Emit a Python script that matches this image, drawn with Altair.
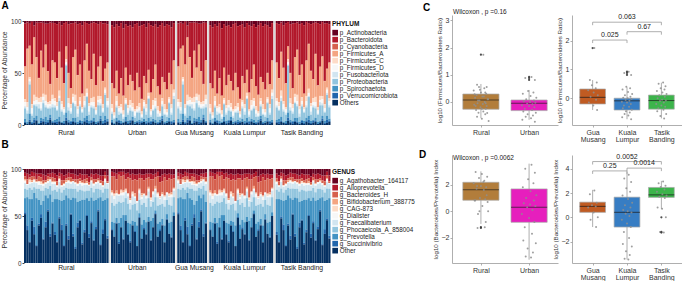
import altair as alt
import pandas as pd

FONT = "Liberation Sans"

# ---------------- categories ----------------
PHYLA = ["p_Actinobacteria", "p_Bacteroidota", "p_Cyanobacteria", "p_Firmicutes_A",
         "p_Firmicutes_C", "p_Firmicutes_D", "p_Fusobacteriota", "p_Proteobacteria",
         "p_Spirochaetota", "p_Verrucomicrobiota", "Others"]
GENERA = ["g_Agathobacter_164117", "g_Alloprevotella", "g_Bacteroides_H",
          "g_Bifidobacterium_388775", "g_CAG-873", "g_Dialister", "g_Faecalibaterium",
          "g_Phocaeicola_A_858004", "g_Prevotella", "g_Succinivibrio", "Other"]
RDBU = ["#67001f", "#b2182b", "#d6604d", "#f4a582", "#fddbc7", "#f7f7f7",
        "#d1e5f0", "#92c5de", "#4393c3", "#2166ac", "#053061"]

# ---------------- phylum relative abundance (%), one list per phylum ----------------
PHY_GM = [
    [2.5, 1.5, 2.7, 0.8, 4.4, 1.6, 1.7, 1.5, 1.8, 2.6, 2.7, 1.5, 1.8],
    [41, 25, 21, 41, 11, 33, 53, 27, 43, 20, 46, 59, 36],
    [0.5, 0.5, 0.3, 0.2, 0.6, 0.4, 0.3, 0.5, 0.2, 0.4, 0.3, 0.5, 0.2],
    [31, 51, 30, 38, 55, 38, 19, 44, 25, 48, 30, 16, 33],
    [3, 5, 2, 4, 6, 3, 4, 5, 3, 6, 2, 3, 4],
    [4, 3, 2, 5, 3, 4, 2, 6, 3, 4, 3, 2, 5],
    [2, 3, 3, 2, 1, 2, 4, 2, 3, 2, 1, 2, 3],
    [10, 8, 28, 6, 12, 9, 14, 7, 15, 9, 11, 6, 13],
    [3, 2, 6, 1, 2, 4, 1, 3, 2, 5, 2, 3, 1],
    [1, 0, 2, 1, 3, 1, 0, 2, 1, 2, 1, 2, 1],
    [2, 1, 3, 1, 2, 4, 1, 2, 3, 1, 2, 5, 2],
]
PHY_TB = [
    [2, 3, 1.5, 4, 2, 1, 3, 2.5, 2, 1.5, 3, 2, 4, 1, 2, 3, 2, 1.5, 2, 3, 1, 2.5, 2, 3],
    [38, 52, 28, 41, 58, 23, 47, 62, 33, 26, 49, 40, 66, 37, 20, 45, 54, 30, 60, 41, 33, 55, 44, 37],
    [0.4, 0.3, 0.5, 0.2, 0.3, 0.6, 0.2, 0.4, 0.3, 0.5, 0.2, 0.3, 0.4, 0.2, 0.5, 0.3, 0.2, 0.4, 0.3, 0.2, 0.5, 0.3, 0.4, 0.2],
    [34, 23, 37, 32, 23, 12, 24, 15, 35, 43, 30, 31, 13, 34, 43, 31, 18, 41, 21, 28, 38, 22, 18, 34],
    [3, 4, 5, 3, 2, 3, 5, 4, 3, 6, 3, 4, 2, 5, 4, 3, 4, 5, 3, 4, 3, 4, 2, 3],
    [4, 3, 2, 5, 3, 2, 4, 3, 5, 3, 4, 3, 2, 4, 3, 5, 3, 4, 3, 2, 4, 3, 3, 4],
    [2, 1, 3, 2, 2, 1, 3, 2, 1, 2, 3, 2, 1, 2, 1, 3, 2, 2, 1, 3, 2, 1, 2, 2],
    [12, 8, 15, 10, 6, 45, 9, 7, 14, 11, 5, 13, 8, 10, 18, 6, 12, 9, 7, 15, 10, 8, 20, 11],
    [2, 3, 4, 1, 2, 5, 2, 1, 3, 4, 2, 1, 2, 3, 4, 2, 1, 3, 2, 1, 3, 2, 4, 2],
    [1, 2, 1, 0, 1, 3, 1, 2, 1, 1, 0, 2, 1, 1, 3, 1, 2, 1, 0, 1, 2, 1, 3, 1],
    [2, 1, 3, 2, 1, 4, 2, 1, 3, 2, 1, 2, 1, 3, 2, 1, 2, 3, 1, 2, 4, 1, 2, 3],
]
PHY_KL = [
    [4, 6, 3, 5, 2, 7, 3, 5, 4, 6, 3, 2, 5, 4, 3, 6, 2, 4, 5, 3, 6, 4, 2, 5, 3, 4, 6, 2],
    [56, 59, 45, 65, 53, 65, 42, 57, 48, 52, 64, 48, 59, 71, 50, 54, 45, 65, 51, 39, 57, 67, 52, 54, 63, 46, 55, 36],
    [0.3, 0.2, 0.4, 0.3, 0.2, 0.5, 0.3, 0.2, 0.4, 0.3, 0.2, 0.3, 0.4, 0.2, 0.3, 0.5, 0.2, 0.3, 0.4, 0.2, 0.3, 0.2, 0.4, 0.3, 0.2, 0.3, 0.4, 0.2],
    [20, 23, 24, 12, 25, 14, 29, 19, 24, 21, 18, 32, 15, 12, 23, 20, 22, 16, 20, 32, 19, 16, 20, 21, 19, 23, 19, 28],
    [4, 3, 5, 2, 3, 4, 2, 3, 5, 4, 2, 3, 4, 3, 2, 4, 3, 2, 5, 3, 4, 2, 3, 5, 3, 2, 4, 3],
    [3, 2, 4, 3, 5, 2, 3, 4, 2, 3, 4, 2, 3, 2, 4, 3, 2, 3, 4, 5, 3, 2, 3, 4, 2, 3, 4, 3],
    [2, 1, 2, 3, 1, 2, 1, 2, 3, 1, 2, 1, 2, 1, 2, 3, 1, 2, 1, 2, 3, 1, 2, 1, 2, 1, 2, 3],
    [6, 4, 10, 5, 7, 3, 12, 6, 9, 5, 4, 8, 7, 3, 10, 6, 18, 4, 8, 11, 5, 3, 9, 7, 4, 14, 6, 20],
    [2, 1, 3, 1, 2, 1, 4, 2, 1, 3, 2, 1, 2, 1, 3, 2, 4, 1, 2, 3, 1, 2, 3, 1, 2, 3, 1, 2],
    [1, 0, 1, 2, 1, 0, 1, 1, 2, 1, 0, 1, 2, 1, 0, 1, 1, 2, 1, 0, 1, 1, 2, 1, 0, 1, 2, 1],
    [2, 1, 3, 2, 1, 2, 3, 1, 2, 4, 1, 2, 1, 2, 3, 1, 2, 1, 3, 2, 1, 2, 4, 1, 2, 3, 1, 2],
]

# ---------------- genus relative abundance (%), one list per genus ----------------
GEN_GM = [
    [4, 5, 6, 3, 4, 5, 5, 5, 6, 7, 5, 5, 4],
    [4, 6, 3, 5, 4, 6, 3, 4, 6, 5, 3, 4, 5],
    [3, 5, 2, 4, 3, 2, 5, 4, 3, 2, 3, 2, 4],
    [1, 0, 1, 2, 0, 1, 0, 1, 1, 0, 2, 0, 1],
    [1, 0, 2, 0, 1, 0, 1, 2, 0, 1, 0, 1, 0],
    [2, 1, 2, 1, 2, 1, 3, 1, 2, 1, 2, 1, 2],
    [6, 5, 4, 7, 5, 6, 4, 6, 5, 4, 6, 5, 7],
    [10, 8, 12, 10, 6, 10, 12, 15, 11, 8, 10, 9, 12],
    [15, 30, 45, 20, 35, 50, 25, 10, 40, 28, 12, 42, 22],
    [2, 5, 1, 3, 8, 1, 2, 4, 1, 6, 2, 3, 1],
    [52, 35, 22, 45, 30, 18, 40, 48, 25, 38, 55, 28, 42],
]
GEN_TB = [
    [5, 7, 4, 5, 7, 6, 4, 5, 5, 6, 7, 5, 6, 6, 6, 8, 5, 6, 5, 6, 7, 7, 3, 7],
    [5, 6, 4, 7, 5, 4, 5, 4, 6, 5, 4, 5, 6, 5, 4, 6, 4, 5, 6, 4, 5, 6, 4, 6],
    [3, 4, 2, 5, 3, 2, 3, 4, 2, 3, 4, 3, 2, 4, 3, 2, 3, 4, 3, 2, 3, 4, 3, 2],
    [1, 0, 1, 0, 1, 2, 0, 1, 0, 0, 1, 0, 1, 0, 2, 1, 0, 1, 0, 1, 0, 0, 1, 0],
    [0, 1, 0, 1, 0, 0, 1, 0, 0, 1, 0, 2, 0, 1, 0, 0, 1, 0, 0, 1, 0, 1, 0, 0],
    [2, 1, 3, 1, 2, 1, 2, 2, 1, 1, 2, 1, 3, 1, 2, 1, 1, 2, 2, 1, 2, 1, 3, 1],
    [6, 5, 7, 6, 4, 5, 6, 5, 7, 5, 6, 6, 5, 7, 6, 5, 6, 7, 5, 6, 5, 6, 7, 5],
    [10, 8, 12, 9, 11, 8, 10, 12, 9, 10, 11, 12, 10, 9, 8, 11, 10, 9, 12, 10, 8, 9, 12, 10],
    [35, 45, 18, 25, 48, 30, 40, 15, 38, 52, 22, 20, 46, 32, 18, 35, 25, 42, 28, 12, 50, 30, 20, 40],
    [3, 1, 2, 6, 1, 2, 4, 1, 3, 2, 5, 1, 2, 3, 1, 4, 2, 1, 3, 2, 1, 5, 2, 3],
    [30, 22, 48, 35, 18, 40, 25, 52, 28, 15, 38, 45, 20, 33, 50, 27, 42, 24, 36, 55, 19, 31, 46, 26],
]
GEN_KL = [
    [3, 4, 5, 3, 3, 3, 5, 4, 6, 5, 6, 6, 5, 6, 6, 5, 5, 5, 6, 5, 3, 8, 6, 5, 6, 5, 6, 6],
    [5, 4, 6, 3, 5, 4, 6, 5, 4, 7, 5, 6, 5, 4, 6, 5, 4, 6, 5, 4, 5, 6, 7, 4, 6, 5, 5, 4],
    [15, 18, 12, 20, 14, 16, 10, 17, 21, 12, 15, 22, 11, 16, 14, 18, 10, 19, 13, 9, 17, 15, 12, 19, 13, 16, 14, 10],
    [2, 1, 3, 0, 1, 2, 1, 0, 2, 1, 3, 0, 1, 2, 1, 0, 2, 1, 0, 3, 1, 0, 2, 1, 0, 1, 2, 1],
    [1, 2, 0, 1, 3, 0, 2, 1, 0, 2, 1, 0, 1, 2, 0, 1, 0, 2, 1, 0, 1, 2, 0, 1, 0, 2, 1, 0],
    [2, 3, 2, 1, 2, 3, 1, 2, 3, 2, 1, 2, 3, 2, 1, 2, 3, 1, 2, 2, 3, 1, 2, 3, 2, 1, 2, 2],
    [8, 7, 9, 6, 8, 7, 6, 8, 7, 9, 6, 8, 7, 6, 8, 9, 7, 6, 8, 7, 9, 6, 8, 7, 6, 8, 9, 7],
    [20, 18, 15, 22, 16, 14, 18, 20, 15, 17, 19, 16, 14, 21, 18, 16, 20, 15, 17, 14, 19, 18, 16, 20, 15, 19, 17, 16],
    [8, 15, 5, 20, 10, 25, 6, 12, 18, 5, 10, 22, 4, 15, 8, 12, 5, 20, 10, 3, 14, 8, 6, 18, 5, 12, 16, 4],
    [1, 0, 1, 2, 0, 1, 0, 1, 2, 0, 1, 0, 1, 0, 2, 1, 0, 1, 0, 1, 0, 2, 1, 0, 1, 0, 1, 0],
    [35, 28, 42, 20, 38, 25, 45, 30, 22, 40, 33, 18, 48, 26, 36, 30, 44, 24, 38, 52, 28, 34, 40, 22, 46, 31, 27, 50],
]

SECTIONS = ["Rural", "Urban", "Gua Musang", "Kuala Lumpur", "Tasik Banding"]
SECTION_MEMBERS = [["GM", "TB"], ["KL"], ["GM"], ["KL"], ["TB"]]
LABEL_AT = [18, 11, 7, 15, 11]

# ---------------- box plot summaries ----------------
C_NAMES1 = ["Rural", "Urban"]
C_NAMES2 = ["Gua Musang", "Kuala Lumpur", "Tasik Banding"]
COL1 = ["#b27d3b", "#e61fbd"]
COL2 = ["#c05b22", "#377dc3", "#3cb44b"]

C1_Q1 = [-0.27, -0.32]; C1_MED = [0.07, -0.05]; C1_Q3 = [0.29, 0.07]; C1_LO = [-0.6, -0.66]; C1_HI = [0.66, 0.44]
C2_Q1 = [-0.2, -0.41, -0.38]; C2_MED = [0.03, -0.09, -0.08]; C2_Q3 = [0.32, 0.0, 0.11]
C2_LO = [-0.41, -0.73, -0.7]; C2_HI = [0.63, 0.38, 0.54]
D1_Q1 = [0.83, -0.83]; D1_MED = [1.62, 0.3]; D1_Q3 = [2.18, 1.68]; D1_LO = [-0.95, -3.64]; D1_HI = [3.0, 3.58]
D2_Q1 = [0.41, -0.8, 1.64]; D2_MED = [0.9, 0.41, 1.85]; D2_Q3 = [1.25, 1.66, 2.46]
D2_LO = [-0.8, -3.47, 0.7]; D2_HI = [2.26, 3.75, 3.0]

# sample points
GM_C = [1.74, 0.63, 0.55, 0.45, 0.35, 0.28, 0.2, 0.1, 0.05, -0.05, -0.15, -0.25, -0.41]
TB_C = [0.55, 0.5, 0.42, 0.35, 0.3, 0.25, 0.2, 0.15, 0.1, 0.05, 0.0, -0.05, -0.08, -0.1, -0.15,
        -0.2, -0.25, -0.3, -0.35, -0.4, -0.45, -0.55, -0.62, -0.7]
KL_C = [0.92, 0.88, 0.81, 0.4, 0.35, 0.3, 0.22, 0.15, 0.1, 0.05, 0.02, 0.0, -0.03, -0.06, -0.09,
        -0.12, -0.15, -0.2, -0.25, -0.3, -0.35, -0.4, -0.45, -0.5, -0.55, -0.6, -0.66, -0.73]
GM_D = [2.2, 1.9, 1.2, 1.0, 0.9, 0.8, 0.4, 0.0, -0.2, -0.8]
TB_D = [2.95, 2.8, 2.6, 2.5, 2.3, 2.1, 1.9, 1.8, 1.7, 1.6, 0.8, 0.7, 0.0, -1.2, -1.25]
KL_D = [3.5, 3.2, 2.9, 2.4, 2.1, 1.8, 1.5, 1.2, 1.0, 0.8, 0.6, 0.5, 0.4, 0.3, 0.1, -0.2, -0.5,
        -0.8, -1.2, -1.7, -2.2, -2.4, -2.8, -3.1, -3.4, -3.47]
JITTER = [0.05, -0.08, 0.12, -0.02, 0.09, -0.13, 0.03, 0.15, -0.06, 0.1, -0.11, 0.02, 0.13, -0.04,
          0.07, -0.15, 0.0, 0.11, -0.09, 0.06, -0.12, 0.14, -0.03, 0.08, -0.07, 0.04, -0.14, 0.12,
          -0.01, 0.1, -0.1, 0.05, -0.05, 0.09, -0.08, 0.02, 0.16, -0.16, 0.01, -0.12]
C1_OUT = [[1.74], [0.92, 0.88, 0.81]]
C2_OUT = [[1.74], [0.92, 0.88, 0.81], []]
D1_OUT = [[-1.2, -1.25], []]
D2_OUT = [[], [], [0.0, -1.2, -1.25]]

C2_BRACKETS = [(1, 3, 2.64, "0.063"), (1, 2, 2.02, "0.025"), (2, 3, 2.31, "0.67")]
D2_BRACKETS = [(1, 3, 4.59, "0.0052"), (1, 2, 3.82, "0.25"), (2, 3, 4.05, "0.0014")]

BOX_W = 0.75
TXT = "#222222"
GRAY = "#9a9a9a"
N_PAD_BANDS = 47   # empty bands to the right of the bars: room for the legend


def stacked_tables(tables, cats, catname):
    rows, domain, gaps, labels = [], [], [], []
    for si, (sec, members) in enumerate(zip(SECTIONS, SECTION_MEMBERS)):
        if si > 0:
            g = f"gap{si}"
            domain.append(g)
            gaps.append(g)
        j = 0
        for m in members:
            tab = tables[m]
            for s in range(len(tab[0])):
                key = f"{si}-{j}"
                domain.append(key)
                for k, c in enumerate(cats):
                    rows.append({"key": key, catname: c, "val": tab[k][s], "ord": len(cats) - 1 - k})
                j += 1
        labels.append({"key": f"{si}-{LABEL_AT[si]}", "label": sec})
    domain += [f"pad{i}" for i in range(N_PAD_BANDS)]
    return pd.DataFrame(rows), domain, pd.DataFrame({"key": gaps}), pd.DataFrame(labels)


def stacked_chart(tables, cats, catname, legend_title, height, ytop, legend_y, letter,
                  letter_offset, label_dy):
    df, domain, gaps, labels = stacked_tables(tables, cats, catname)
    xs = alt.Scale(domain=domain, paddingInner=0, paddingOuter=0, round=False)
    ys = alt.Scale(domain=[0, ytop], nice=False)
    yaxis = alt.Axis(values=[0, 0.25, 0.5, 0.75, 1], labelExpr="format(datum.value*100,'d')",
                     title="Percentage of Abundance", domain=False, grid=False, tickSize=2,
                     tickColor="#444", labelFontSize=6.3, labelColor="#333", labelPadding=1,
                     titleFontSize=6.8, titleFontWeight="normal", titleColor="#333", titlePadding=3)
    bars = alt.Chart(df).mark_bar().encode(
        x=alt.X("key:N", scale=xs, axis=None),
        y=alt.Y("val:Q", stack="normalize", scale=ys, axis=yaxis),
        color=alt.Color(f"{catname}:N", scale=alt.Scale(domain=cats, range=RDBU),
                        legend=alt.Legend(title=legend_title, orient="none", legendX=308,
                                          legendY=legend_y, padding=0,
                                          titleFontSize=6.5, titleFontWeight="bold", titleColor="#111",
                                          titlePadding=2, labelFontSize=6.3, labelColor=TXT,
                                          labelOffset=1.5, symbolType="square", symbolSize=32,
                                          symbolStrokeWidth=0, rowPadding=-1.7, labelLimit=120)),
        order=alt.Order("ord:Q", sort="ascending"),
    )
    rules = alt.Chart(gaps).mark_rule(color="#d6d6d6", strokeWidth=1.6).encode(
        x=alt.X("key:N", scale=xs, axis=None), y=alt.datum(0), y2=alt.datum(1))
    text = alt.Chart(labels).mark_text(fontSize=6.8, baseline="top", color=TXT).encode(
        x=alt.X("key:N", scale=xs, axis=None), y=alt.value(height + label_dy), text="label:N")
    return alt.layer(bars, rules, text).properties(
        width=414, height=height,
        title=alt.TitleParams(letter, anchor="start", frame="bounds", fontSize=10,
                              fontWeight="bold", offset=letter_offset, color="#000"))


def box_panel(names, colors, q1, med, q3, lo, hi, pts, outs, ydom, yticks, w, h, ytitle,
              twoline=False, letter=None, letter_offset=0, wil=None, wil_y=0, brackets=None):
    n = len(names)
    pos = list(range(1, n + 1))
    sdf = pd.DataFrame({"pos": pos, "grp": names, "q1": q1, "med": med, "q3": q3, "lo": lo, "hi": hi})
    sdf["xl"] = sdf["pos"] - BOX_W / 2
    sdf["xr"] = sdf["pos"] + BOX_W / 2
    prow = [{"x": p + j, "v": v} for p, vals in zip(pos, pts) for v, j in zip(vals, JITTER)]
    pdf = pd.DataFrame(prow)
    orow = [{"x": p, "v": v} for p, vals in zip(pos, outs) for v in vals]
    odf = pd.DataFrame(orow, columns=["x", "v"])

    parts = []
    for i, nm in enumerate(names):
        if twoline:
            a, b = nm.split(" ", 1)
            parts.append(f"['{a}','{b}']")
        else:
            parts.append(f"'{nm}'")
    expr = ""
    for i, lab in enumerate(parts[:-1]):
        expr += f"datum.value == {i + 1} ? {lab} : "
    expr += parts[-1]

    ax = dict(grid=False, domainColor=GRAY, domainWidth=0.8, tickColor=GRAY, tickSize=2,
              tickWidth=0.8, labelFontSize=7, labelColor="#333", labelPadding=1)
    xaxis = alt.Axis(values=pos, labelExpr=expr, title=None, labelLineHeight=7.8, **ax)
    yaxis = alt.Axis(values=yticks, title=ytitle, titlePadding=3, titleFontSize=6.2,
                     titleFontWeight="normal", titleColor="#333", **ax)
    xs = alt.Scale(domain=[0.4, n + 0.6], nice=False, zero=False)
    ys = alt.Scale(domain=ydom, nice=False, zero=False)

    def X(f):
        return alt.X(f, scale=xs, axis=xaxis)

    def Y(f):
        return alt.Y(f, scale=ys, axis=yaxis)

    layers = [
        alt.Chart(sdf).mark_rule(color=GRAY, strokeWidth=0.8).encode(x=X("pos:Q"), y=Y("lo:Q"), y2="hi:Q"),
        alt.Chart(sdf).mark_rect(stroke="#a8a8a8", strokeWidth=0.7).encode(
            x=X("xl:Q"), x2="xr:Q", y=Y("q1:Q"), y2="q3:Q",
            color=alt.Color("grp:N", scale=alt.Scale(domain=names, range=colors), legend=None)),
        alt.Chart(sdf).mark_rule(color="#1a1a1a", strokeWidth=1.1, opacity=0.65).encode(
            x=X("xl:Q"), x2="xr:Q", y=Y("med:Q")),
        alt.Chart(pdf).mark_circle(size=4, color="#8e8e8e", opacity=0.85).encode(x=X("x:Q"), y=Y("v:Q")),
        alt.Chart(odf).mark_circle(size=5, color="#3c3c3c", opacity=0.9).encode(x=X("x:Q"), y=Y("v:Q")),
    ]
    if brackets:
        span = ydom[1] - ydom[0]
        tip = 3.0 * span / h
        bdf = pd.DataFrame({"x1": [b[0] for b in brackets], "x2": [b[1] for b in brackets],
                            "y": [b[2] for b in brackets], "label": [b[3] for b in brackets]})
        bdf["xm"] = (bdf["x1"] + bdf["x2"]) / 2
        bdf["yt"] = bdf["y"] - tip
        layers += [
            alt.Chart(bdf).mark_rule(color=GRAY, strokeWidth=0.8).encode(x=X("x1:Q"), x2="x2:Q", y=Y("y:Q")),
            alt.Chart(bdf).mark_rule(color=GRAY, strokeWidth=0.8).encode(x=X("x1:Q"), y=Y("y:Q"), y2="yt:Q"),
            alt.Chart(bdf).mark_rule(color=GRAY, strokeWidth=0.8).encode(x=X("x2:Q"), y=Y("y:Q"), y2="yt:Q"),
            alt.Chart(bdf).mark_text(fontSize=7, baseline="bottom", dy=-2, color=TXT).encode(
                x=X("xm:Q"), y=Y("y:Q"), text="label:N"),
        ]
    if wil:
        layers.append(alt.Chart(pd.DataFrame({"t": [wil]})).mark_text(
            align="left", baseline="middle", fontSize=6.5, color=TXT).encode(
            x=alt.value(1), y=alt.value(wil_y), text="t:N"))
    props = dict(width=w, height=h)
    if letter:
        props["title"] = alt.TitleParams(letter, anchor="start", frame="bounds", fontSize=10,
                                         fontWeight="bold", offset=letter_offset, dx=-13, color="#000")
    return alt.layer(*layers).properties(**props)


# ---------------- panels ----------------
A = stacked_chart({"GM": PHY_GM, "TB": PHY_TB, "KL": PHY_KL}, PHYLA, "phylum", "PHYLUM",
                  110, 1.0577, 6, "A", 4, 4.5)
B = stacked_chart({"GM": GEN_GM, "TB": GEN_TB, "KL": GEN_KL}, GENERA, "genus", "GENUS",
                  108, 1.149, 14, "B", 5, 2)

C1 = box_panel(C_NAMES1, COL1, C1_Q1, C1_MED, C1_Q3, C1_LO, C1_HI, [GM_C + TB_C, KL_C], C1_OUT,
               [-0.85, 3.2], [0, 1, 2, 3], 106, 110, "log10 (Firmicutes/Bacteroidetes Ratio)",
               letter="C", letter_offset=-3.5, wil="Wilcoxon , p =0.16", wil_y=-3)
C2 = box_panel(C_NAMES2, COL2, C2_Q1, C2_MED, C2_Q3, C2_LO, C2_HI, [GM_C, KL_C, TB_C], C2_OUT,
               [-0.93, 2.89], [0, 1, 2], 110, 110, "log10 (Firmicutes/Bacteroidetes Ratio)",
               twoline=True, brackets=C2_BRACKETS)
D1 = box_panel(C_NAMES1, COL1, D1_Q1, D1_MED, D1_Q3, D1_LO, D1_HI, [GM_D + TB_D, KL_D], D1_OUT,
               [-3.89, 4.23], [-2, 0, 2], 106, 108, "log10 (Bacteroides/Prevotella) Index",
               letter="D", letter_offset=-5, wil="Wilcoxon , p =0.0062", wil_y=3)
D2 = box_panel(C_NAMES2, COL2, D2_Q1, D2_MED, D2_Q3, D2_LO, D2_HI, [GM_D, KL_D, TB_D], D2_OUT,
               [-3.76, 5.13], [-2, 0, 2, 4], 110, 108, "log10 (Bacteroides/Prevotella) Index",
               twoline=True, brackets=D2_BRACKETS)

chart = alt.concat(A, C1, C2, B, D1, D2, columns=3, spacing={"row": 30, "column": 14},
                   bounds="flush") \
    .resolve_scale(x="independent", y="independent", color="independent") \
    .resolve_legend(color="independent") \
    .properties(padding={"left": 1, "top": 1, "right": 0, "bottom": 0}) \
    .configure(font=FONT, background="white") \
    .configure_view(stroke=None)

chart.save("out.html", embed_options={"renderer": "svg", "actions": False})
